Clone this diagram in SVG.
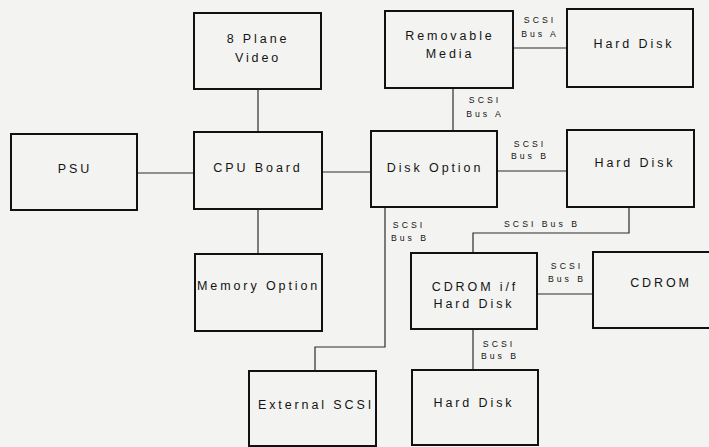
<svg xmlns="http://www.w3.org/2000/svg" width="709" height="447" viewBox="0 0 709 447">
<style>
.bg{fill:#f3f3f1}
.box{fill:none;stroke:#111;stroke-width:2}
.conn{fill:none;stroke:#2c2c2c;stroke-width:1.2}
.t{font-family:"Liberation Sans",Arial,sans-serif;font-size:12.5px;letter-spacing:2.9px;fill:#141414;text-anchor:middle}
.s{font-family:"Liberation Sans",Arial,sans-serif;font-size:8.7px;letter-spacing:3px;fill:#141414;text-anchor:middle}
</style>
<rect class="bg" x="0" y="0" width="709" height="447"/>
<g id="connectors">
<path class="conn" d="M258,89 V132"/>
<path class="conn" d="M137,173 H194"/>
<path class="conn" d="M322,172 H371"/>
<path class="conn" d="M258,209 V254"/>
<path class="conn" d="M513,48 H567"/>
<path class="conn" d="M453,88 V131"/>
<path class="conn" d="M497,171 H567"/>
<path class="conn" d="M385,207 V347 H315 V371"/>
<path class="conn" d="M629,207 V233 H473 V253"/>
<path class="conn" d="M537,294 H593"/>
<path class="conn" d="M473,329 V370"/>
<text class="s" x="540" y="23">SCSI</text>
<text class="s" x="540" y="37">Bus A</text>
<text class="s" x="485" y="103">SCSI</text>
<text class="s" x="485" y="117">Bus A</text>
<text class="s" x="530" y="147">SCSI</text>
<text class="s" x="530" y="159">Bus B</text>
<text class="s" x="409" y="228">SCSI</text>
<text class="s" x="410" y="241">Bus B</text>
<text class="s" x="542" y="227">SCSI Bus B</text>
<text class="s" x="567" y="269">SCSI</text>
<text class="s" x="567" y="282">Bus B</text>
<text class="s" x="499" y="347">SCSI</text>
<text class="s" x="500" y="359">Bus B</text>
</g>
<g id="video">
<rect class="box" x="194" y="13" width="127" height="76"/>
<text class="t" x="258" y="43">8 Plane</text>
<text class="t" x="258" y="62">Video</text>
</g>
<g id="psu">
<rect class="box" x="11" y="134" width="126" height="76"/>
<text class="t" x="75" y="173">PSU</text>
</g>
<g id="cpu">
<rect class="box" x="194" y="132" width="128" height="77"/>
<text class="t" x="258" y="172">CPU Board</text>
</g>
<g id="memory">
<rect class="box" x="195" y="254" width="127" height="77"/>
<text class="t" x="197" y="290" style="text-anchor:start">Memory Option</text>
</g>
<g id="removable">
<rect class="box" x="385" y="11" width="128" height="77"/>
<text class="t" x="450" y="40">Removable</text>
<text class="t" x="450" y="58">Media</text>
</g>
<g id="harddisk1">
<rect class="box" x="567" y="9" width="126" height="78"/>
<text class="t" x="634" y="48">Hard Disk</text>
</g>
<g id="diskoption">
<rect class="box" x="371" y="131" width="126" height="76"/>
<text class="t" x="435" y="172">Disk Option</text>
</g>
<g id="harddisk2">
<rect class="box" x="567" y="130" width="127" height="77"/>
<text class="t" x="635" y="167">Hard Disk</text>
</g>
<g id="cdromif">
<rect class="box" x="411" y="253" width="126" height="76"/>
<text class="t" x="475" y="291">CDROM i/f</text>
<text class="t" x="474" y="308">Hard Disk</text>
</g>
<g id="cdrom">
<rect class="box" x="593" y="252" width="122" height="76"/>
<text class="t" x="661" y="287">CDROM</text>
</g>
<g id="externalscsi">
<rect class="box" x="249" y="371" width="127" height="75"/>
<text class="t" x="316" y="409">External SCSI</text>
</g>
<g id="harddisk3">
<rect class="box" x="412" y="370" width="126" height="75"/>
<text class="t" x="474" y="407">Hard Disk</text>
</g>
</svg>
